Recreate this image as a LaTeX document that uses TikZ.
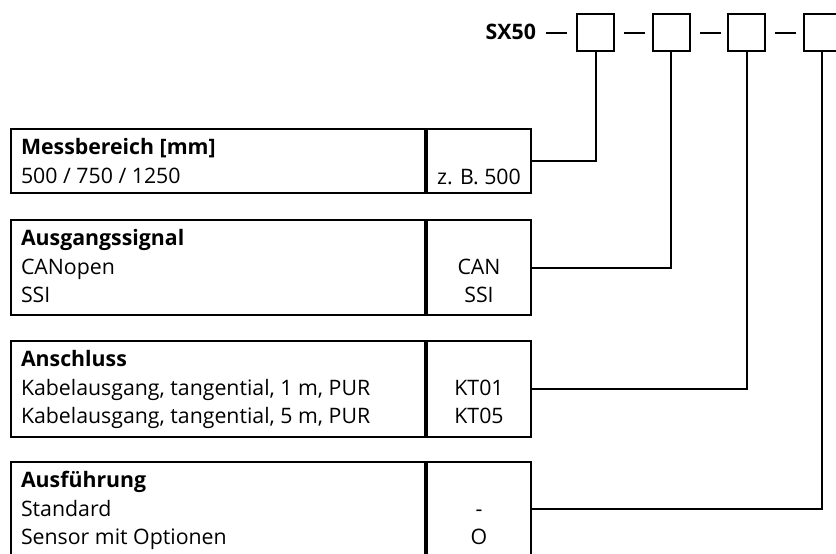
\documentclass[tikz,border=0pt]{standalone}
\usepackage{fontspec}
\setmainfont{Open Sans}
\usetikzlibrary{positioning}
\newcommand{\schrift}{\fontsize{21.3}{27}\selectfont}

\begin{document}
\begin{tikzpicture}[x=1pt,y=-1pt,line width=2pt,
                    feld/.style={draw,minimum size=37pt,inner sep=0pt},
                    zelle/.style={draw,anchor=north west,inner sep=0pt},
                    txt/.style={anchor=base west,inner sep=0pt,font=\schrift},
                    kurz/.style={anchor=base,inner sep=0pt,font=\schrift}]
                    \useasboundingbox (0,0) rectangle (836,554);
                    % Typenschluessel
                    \node[txt,anchor=base east] (typ) at (537,39) {\textbf{SX50}};
                    \foreach \i/\x in {1/595.5,2/671,3/746.5,4/822}
                        \node[feld] (b\i) at (\x,32.5) {};
                    \draw (b1.west) ++(-9,0) -- ++(-21,0);
                    \foreach \i in {1,2,3}
                        \draw (b\i.east) ++(9,0) -- ++(21,0);
                    % Messbereich
                    \node[zelle,minimum width=414pt,minimum height=64pt] (mb) at (10,128) {};
                    \node[zelle,minimum width=104pt,minimum height=64pt] (mbk) at (mb.north east) {};
                    \node[txt] (mb1) at ([shift={(10,26)}]mb.north west) {\textbf{Messbereich [mm]}};
                    \node[txt] (mb2) at ([shift={(10,55)}]mb.north west) {500 / 750 / 1250};
                    \node[kurz] (mbc) at ([shift={(0,56)}]mbk.north) {z. B. 500};
                    % Ausgangssignal
                    \node[zelle,minimum width=414pt,minimum height=95pt] (as) at (10,219) {};
                    \node[zelle,minimum width=104pt,minimum height=95pt] (ask) at (as.north east) {};
                    \node[txt] (as1) at ([shift={(10,26)}]as.north west) {\textbf{Ausgangssignal}};
                    \node[txt] (as2) at ([shift={(10,55)}]as.north west) {CANopen};
                    \node[txt] (as3) at ([shift={(10,83)}]as.north west) {SSI};
                    \node[kurz] (asc1) at ([shift={(0,55)}]ask.north) {CAN};
                    \node[kurz] (asc2) at ([shift={(0,83)}]ask.north) {SSI};
                    % Anschluss
                    \node[zelle,minimum width=414pt,minimum height=96pt] (an) at (10,340) {};
                    \node[zelle,minimum width=104pt,minimum height=96pt] (ank) at (an.north east) {};
                    \node[txt] (an1) at ([shift={(10,26)}]an.north west) {\textbf{Anschluss}};
                    \node[txt] (an2) at ([shift={(10,55)}]an.north west) {Kabelausgang, tangential, 1 m, PUR};
                    \node[txt] (an3) at ([shift={(10,83)}]an.north west) {Kabelausgang, tangential, 5 m, PUR};
                    \node[kurz] (anc1) at ([shift={(0,55)}]ank.north) {KT01};
                    \node[kurz] (anc2) at ([shift={(0,83)}]ank.north) {KT05};
                    % Ausfuehrung
                    \node[zelle,minimum width=414pt,minimum height=94pt] (af) at (10,461) {};
                    \node[zelle,minimum width=104pt,minimum height=94pt] (afk) at (af.north east) {};
                    \node[txt] (af1) at ([shift={(10,26)}]af.north west) {\textbf{Ausführung}};
                    \node[txt] (af2) at ([shift={(10,55)}]af.north west) {Standard};
                    \node[txt] (af3) at ([shift={(10,83)}]af.north west) {Sensor mit Optionen};
                    \node[kurz] (afc1) at ([shift={(0,55)}]afk.north) {-};
                    \node[kurz] (afc2) at ([shift={(0,83)}]afk.north) {O};
                    % Verbindungen
                    \draw (mbk.east) -| (b1.south);
                    \draw (ask.east) -| (b2.south);
                    \draw (ank.east) -| (b3.south);
                    \draw (afk.east) -| (b4.south);
                \end{tikzpicture}
\end{document}
